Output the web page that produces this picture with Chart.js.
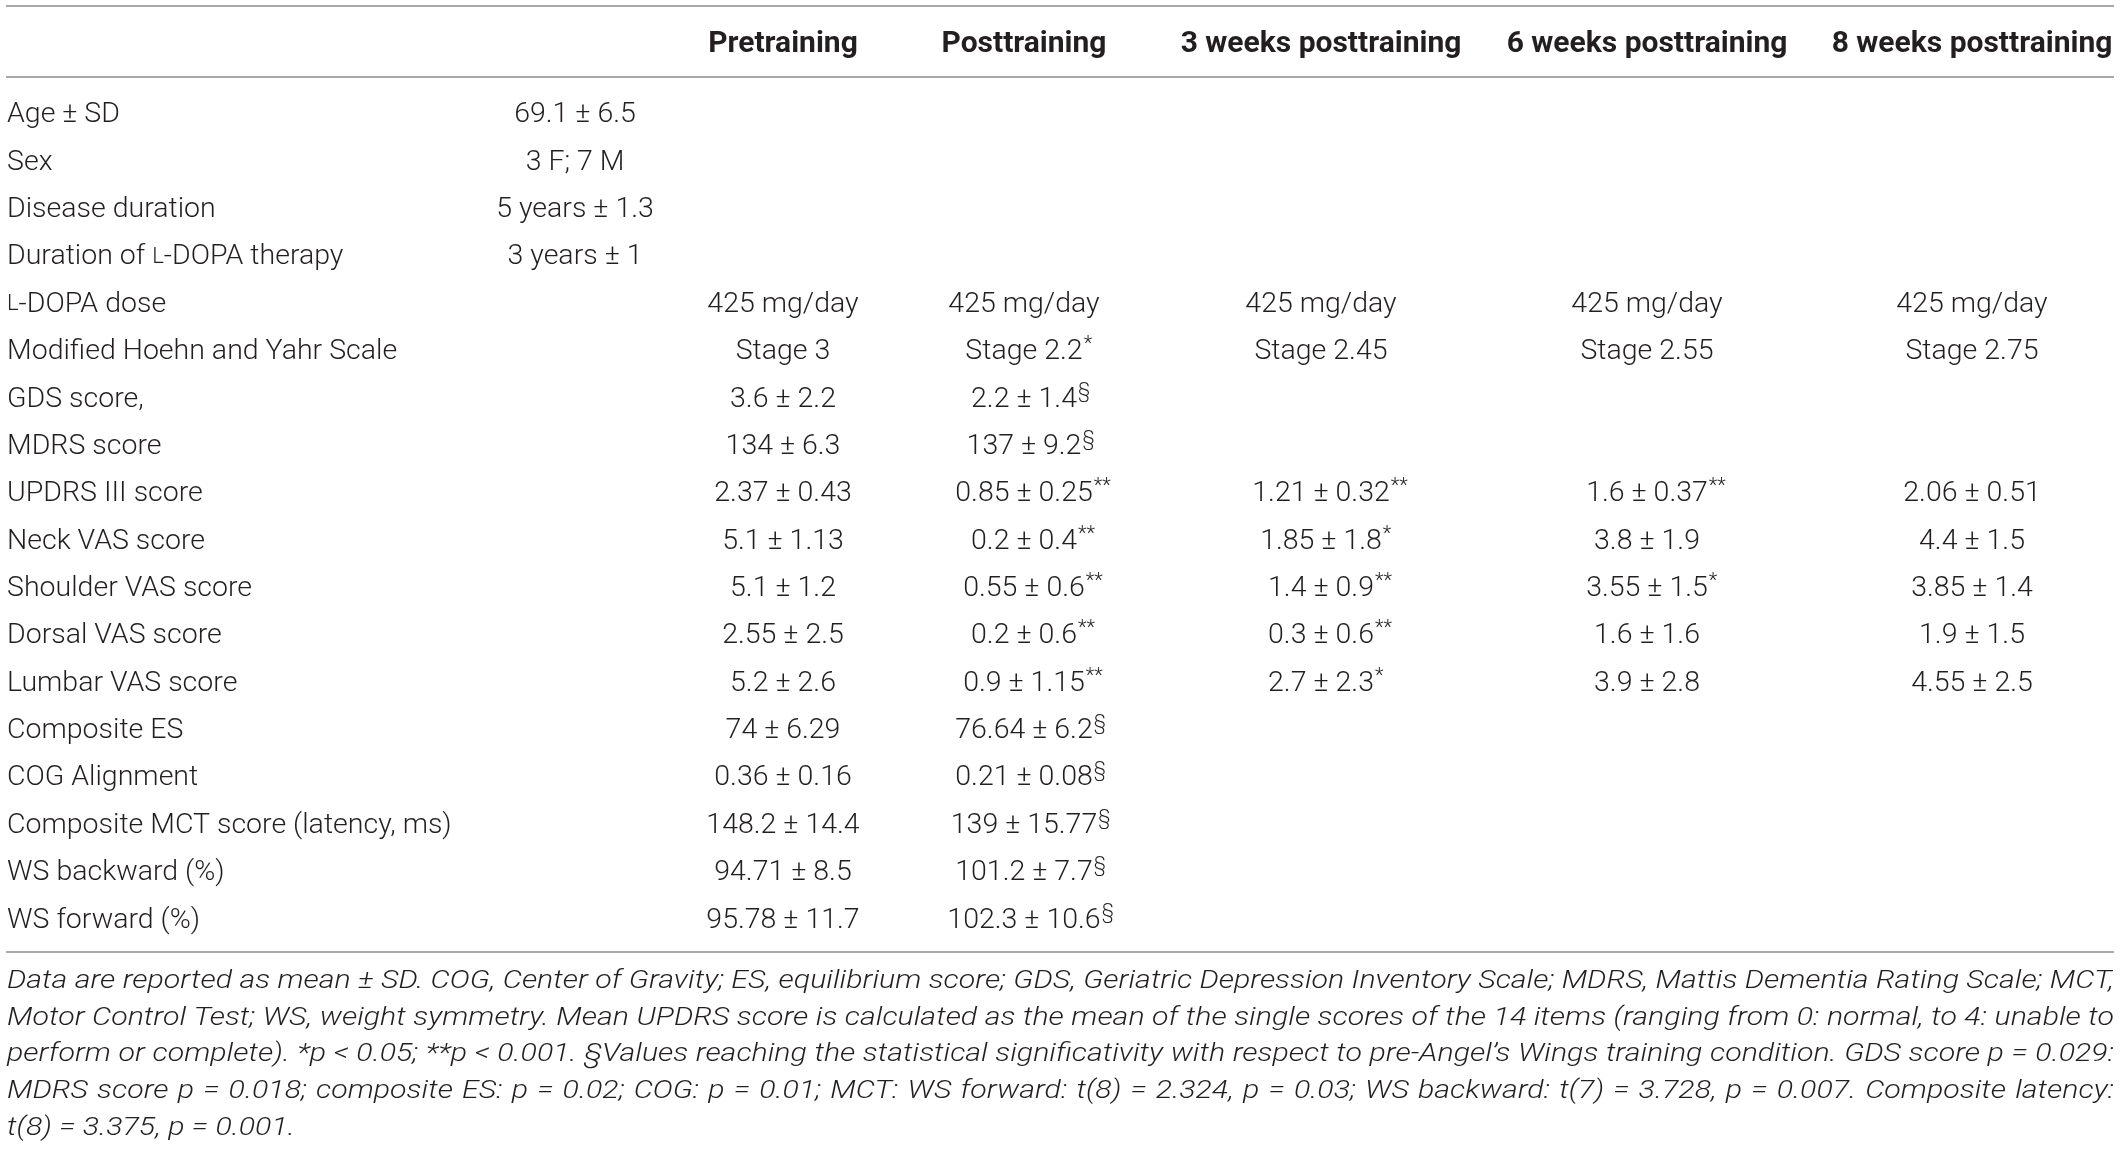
<!DOCTYPE html>
<html>
<head>
<meta charset="utf-8">
<script src="https://cdn.jsdelivr.net/npm/chart.js@4.4.0/dist/chart.umd.min.js"></script>
<style>
  html, body { margin: 0; padding: 0; background: #fff; }
  canvas { display: block; }
</style>
</head>
<body>
<canvas id="tableChart" width="2122" height="1150"></canvas>
<script>
// table content
const rowLabels = [
  "Age ± SD",
  "Sex",
  "Disease duration",
  "Duration of L-DOPA therapy",
  "L-DOPA dose",
  "Modified Hoehn and Yahr Scale",
  "GDS score,",
  "MDRS score",
  "UPDRS III score",
  "Neck VAS score",
  "Shoulder VAS score",
  "Dorsal VAS score",
  "Lumbar VAS score",
  "Composite ES",
  "COG Alignment",
  "Composite MCT score (latency, ms)",
  "WS backward (%)",
  "WS forward (%)",
];
const colHeaders = ["", "Pretraining", "Posttraining", "3 weeks posttraining", "6 weeks posttraining", "8 weeks posttraining"];

const baseline = ["69.1 ± 6.5", "3 F; 7 M", "5 years ± 1.3", "3 years ± 1", "", "", "", "", "", "", "", "", "", "", "", "", "", ""];
const pretraining = ["", "", "", "", "425 mg/day", "Stage 3", "3.6 ± 2.2", "134 ± 6.3", "2.37 ± 0.43", "5.1 ± 1.13",
  "5.1 ± 1.2", "2.55 ± 2.5", "5.2 ± 2.6", "74 ± 6.29", "0.36 ± 0.16", "148.2 ± 14.4", "94.71 ± 8.5", "95.78 ± 11.7"];
const posttraining = ["", "", "", "", "425 mg/day", "Stage 2.2*", "2.2 ± 1.4§", "137 ± 9.2§", "0.85 ± 0.25**", "0.2 ± 0.4**",
  "0.55 ± 0.6**", "0.2 ± 0.6**", "0.9 ± 1.15**", "76.64 ± 6.2§", "0.21 ± 0.08§", "139 ± 15.77§", "101.2 ± 7.7§", "102.3 ± 10.6§"];
const weeks3 = ["", "", "", "", "425 mg/day", "Stage 2.45", "", "", "1.21 ± 0.32**", "1.85 ± 1.8*",
  "1.4 ± 0.9**", "0.3 ± 0.6**", "2.7 ± 2.3*", "", "", "", "", ""];
const weeks6 = ["", "", "", "", "425 mg/day", "Stage 2.55", "", "", "1.6 ± 0.37**", "3.8 ± 1.9",
  "3.55 ± 1.5*", "1.6 ± 1.6", "3.9 ± 2.8", "", "", "", "", ""];
const weeks8 = ["", "", "", "", "425 mg/day", "Stage 2.75", "", "", "2.06 ± 0.51", "4.4 ± 1.5",
  "3.85 ± 1.4", "1.9 ± 1.5", "4.55 ± 2.5", "", "", "", "", ""];

const footnoteLines = [
  "Data are reported as mean ± SD. COG, Center of Gravity; ES, equilibrium score; GDS, Geriatric Depression Inventory Scale; MDRS, Mattis Dementia Rating Scale; MCT,",
  "Motor Control Test; WS, weight symmetry. Mean UPDRS score is calculated as the mean of the single scores of the 14 items (ranging from 0: normal, to 4: unable to",
  "perform or complete). *p < 0.05; **p < 0.001. §Values reaching the statistical significativity with respect to pre-Angel’s Wings training condition. GDS score p = 0.029:",
  "MDRS score p = 0.018; composite ES: p = 0.02; COG: p = 0.01; MCT: WS forward: t(8) = 2.324, p = 0.03; WS backward: t(7) = 3.728, p = 0.007. Composite latency:",
  "t(8) = 3.375, p = 0.001.",
];

// layout
const COL_X = [575, 783, 1024, 1321, 1647, 1972];
const LEFT = 7, RIGHT = 2114;
const TEXT = "#231f20";
const RULE = "#a8a8a8";
const FAMILY = "Roboto, 'Liberation Sans', sans-serif";
const BODY = "300 28.5px " + FAMILY;
const BODY_SC = "300 22px " + FAMILY;
const SUP = "300 20px " + FAMILY;
const HEAD = "bold 30px " + FAMILY;
const NOTE = "italic 300 25px " + FAMILY;

const columns = [baseline, pretraining, posttraining, weeks3, weeks6, weeks8];

const datasets = columns.map((col, c) => ({
  label: colHeaders[c],
  data: col
    .map((v, r) => ({ x: COL_X[c], y: rowLabels[r], text: v }))
    .filter((d) => d.text !== ""),
  pointRadius: 0,
}));

function drawLabel(ctx, text, x, y) {
  // L of L-DOPA is set in small caps
  const parts = text.split(/(L(?=-DOPA))/).filter((p) => p !== "");
  ctx.textAlign = "left";
  parts.forEach((p) => {
    ctx.font = p === "L" ? BODY_SC : BODY;
    ctx.fillText(p, x, y);
    x += ctx.measureText(p).width;
  });
}

function drawCell(ctx, text, x, y) {
  const m = text.match(/^(.*?)([*§]+)$/);
  const main = m ? m[1] : text;
  const mark = m ? m[2] : "";
  ctx.font = BODY;
  const w = ctx.measureText(main).width;
  ctx.textAlign = "left";
  ctx.fillText(main, x - w / 2, y);
  if (mark) {
    ctx.font = SUP;
    ctx.fillText(mark, x + w / 2 + 1, y - 7);
  }
}

function rule(ctx, y) {
  ctx.beginPath();
  ctx.moveTo(LEFT - 1, y);
  ctx.lineTo(RIGHT, y);
  ctx.stroke();
}

function stretchedText(ctx, s, x, y, sx) {
  ctx.save();
  ctx.translate(x, y);
  ctx.scale(sx, 1);
  ctx.fillText(s, 0, 0);
  ctx.restore();
}

const tablePlugin = {
  id: "table_text",
  afterDatasetsDraw: (chart) => {
    const { ctx, scales } = chart;
    const yScale = scales.y;
    ctx.save();
    ctx.fillStyle = TEXT;
    ctx.textBaseline = "middle";

    // rules
    ctx.strokeStyle = RULE;
    ctx.lineWidth = 2;
    rule(ctx, 6);
    rule(ctx, 77);
    rule(ctx, 952);

    // header
    ctx.font = HEAD;
    ctx.textAlign = "center";
    colHeaders.forEach((h, c) => {
      if (h) ctx.fillText(h, COL_X[c], 44);
    });

    // row labels
    rowLabels.forEach((lab, r) => {
      drawLabel(ctx, lab, LEFT, yScale.getPixelForValue(r));
    });

    // cells
    chart.data.datasets.forEach((ds, i) => {
      const meta = chart.getDatasetMeta(i);
      meta.data.forEach((el, j) => {
        drawCell(ctx, ds.data[j].text, el.x, el.y);
      });
    });

    // footnote: first line sets the horizontal stretch, the others are justified
    ctx.font = NOTE;
    ctx.textAlign = "left";
    const sx = (RIGHT - LEFT) / ctx.measureText(footnoteLines[0]).width;
    footnoteLines.forEach((line, k) => {
      const y = 982 + k * 36.6;
      if (k === footnoteLines.length - 1) {
        stretchedText(ctx, line, LEFT, y, sx);
        return;
      }
      const words = line.split(" ");
      const wordsW = words.reduce((s, w) => s + ctx.measureText(w).width * sx, 0);
      const gap = (RIGHT - LEFT - wordsW) / (words.length - 1);
      let x = LEFT;
      words.forEach((w) => {
        stretchedText(ctx, w, x, y, sx);
        x += ctx.measureText(w).width * sx + gap;
      });
    });
    ctx.restore();
  },
};

const tableChart = new Chart(document.getElementById("tableChart"), {
  type: "scatter",
  data: { datasets },
  plugins: [tablePlugin],
  options: {
    responsive: false,
    animation: false,
    layout: { padding: { top: 91.6, bottom: 205.9, left: 0, right: 0 } },
    plugins: {
      legend: { display: false },
      tooltip: { enabled: false },
    },
    scales: {
      x: { type: "linear", min: 0, max: 2122, display: false },
      y: { type: "category", labels: rowLabels, offset: true, display: false },
    },
  },
});
</script>
</body>
</html>
